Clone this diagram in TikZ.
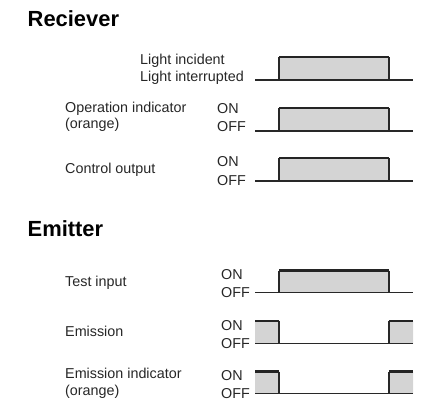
\documentclass[tikz,border=0pt]{standalone}
\usepackage{fontspec}
\setmainfont{Liberation Sans}
\definecolor{sigcol}{RGB}{40,40,40}
\definecolor{pulsecol}{RGB}{212,212,212}
\tikzset{
	lbl/.style={anchor=base west, inner sep=0pt, font=\fontsize{14.4}{17}\selectfont, text=black!85},
	ttl/.style={anchor=base west, inner sep=0pt, font=\fontsize{22}{26}\selectfont\bfseries},
	sigline/.style={draw=sigcol, line width=1.5bp},
	topline/.style={draw=sigcol!90!black, line width=2.6bp},
	pulsefill/.style={fill=pulsecol}
}
\begin{document}
\begin{tikzpicture}[x=1bp,y=-1bp]
	\useasboundingbox (0,0) rectangle (429,417);
	
	%Reciever
	\node[ttl] (rtitle) at (27.5,26) {Reciever};
	
	\node[lbl] (incident) at (140,64.5) {Light incident};
	\node[lbl] (interrupted) at (140,81.5) {Light interrupted};
	\fill[pulsefill] (279,80) rectangle (389,57);
	\draw[sigline] (255,80) -- (413,80);
	\draw[sigline] (279,80) -- (279,57) (389,57) -- (389,80);
	\draw[topline] (279,57) -- (389,57);
	
	\node[lbl] (opind) at (65,112) {Operation indicator};
	\node[lbl] (oporange) at (65,128.5) {(orange)};
	\node[lbl] (opon) at (217,113.5) {ON};
	\node[lbl] (opoff) at (217,131.5) {OFF};
	\fill[pulsefill] (279,131) rectangle (389,108);
	\draw[sigline] (255,131) -- (413,131);
	\draw[sigline] (279,131) -- (279,108) (389,108) -- (389,131);
	\draw[topline] (279,108) -- (389,108);
	
	\node[lbl] (ctrl) at (65,173) {Control output};
	\node[lbl] (ctrlon) at (217,166.5) {ON};
	\node[lbl] (ctrloff) at (217,185) {OFF};
	\fill[pulsefill] (279,181) rectangle (389,158);
	\draw[sigline] (255,181) -- (413,181);
	\draw[sigline] (279,181) -- (279,158) (389,158) -- (389,181);
	\draw[topline] (279,158) -- (389,158);
	
	%Emitter
	\node[ttl] (etitle) at (27.5,236) {Emitter};
	
	\node[lbl] (test) at (65,286) {Test input};
	\node[lbl] (teston) at (221,279) {ON};
	\node[lbl] (testoff) at (221,297.5) {OFF};
	\fill[pulsefill] (279,292.5) rectangle (389,270.5);
	\draw[sigline] (255,292.5) -- (413,292.5);
	\draw[sigline] (279,292.5) -- (279,270.5) (389,270.5) -- (389,292.5);
	\draw[topline] (279,270.5) -- (389,270.5);
	
	\node[lbl] (emis) at (65,336.5) {Emission};
	\node[lbl] (emison) at (221,330) {ON};
	\node[lbl] (emisoff) at (221,348.5) {OFF};
	\fill[pulsefill] (255,343.5) rectangle (279,321) (389,343.5) rectangle (413,321);
	\draw[sigline] (255,343.5) -- (413,343.5);
	\draw[sigline] (279,321) -- (279,343.5) (389,343.5) -- (389,321);
	\draw[topline] (255,321) -- (279,321) (389,321) -- (413,321);
	
	\node[lbl] (emind) at (65,378.5) {Emission indicator};
	\node[lbl] (emorange) at (65,395) {(orange)};
	\node[lbl] (emindon) at (221,380) {ON};
	\node[lbl] (emindoff) at (221,398.5) {OFF};
	\fill[pulsefill] (255,393.5) rectangle (279,371.5) (389,393.5) rectangle (413,371.5);
	\draw[sigline] (255,393.5) -- (413,393.5);
	\draw[sigline] (279,371.5) -- (279,393.5) (389,393.5) -- (389,371.5);
	\draw[topline] (255,371.5) -- (279,371.5) (389,371.5) -- (413,371.5);

\end{tikzpicture}
\end{document}
